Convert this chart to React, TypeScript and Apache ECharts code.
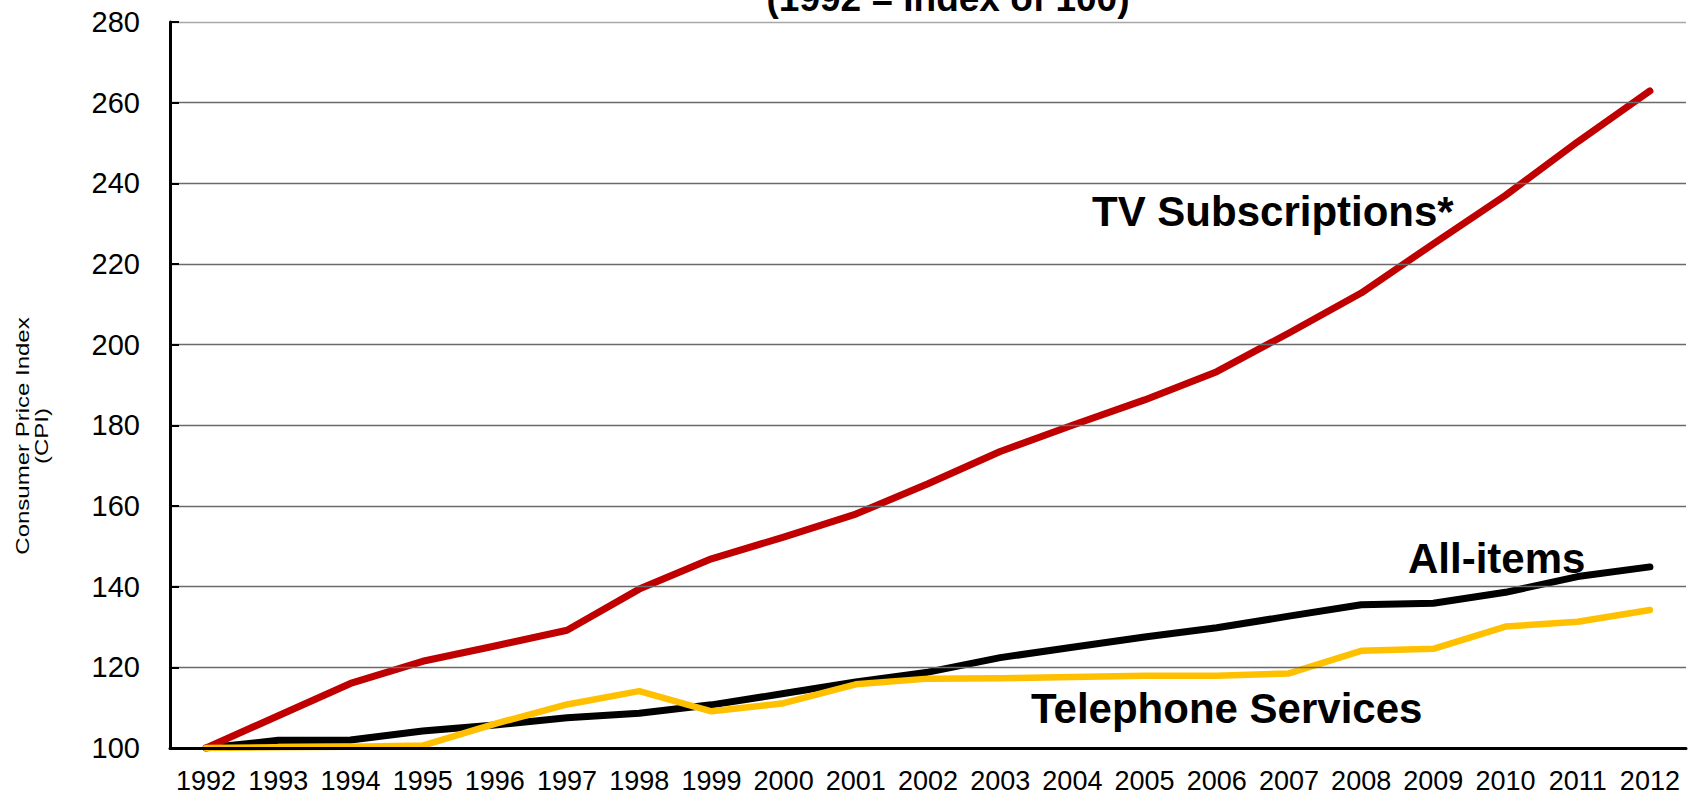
import React, { useEffect, useRef } from "react";
import * as echarts from "echarts";

const years = [
  "1992", "1993", "1994", "1995", "1996", "1997", "1998", "1999", "2000", "2001", "2002",
  "2003", "2004", "2005", "2006", "2007", "2008", "2009", "2010", "2011", "2012",
];
const tvSubscriptions = [
  100, 108, 116, 121.5, 125.3, 129.2, 139.4, 146.9, 152.3, 158, 165.5,
  173.5, 180, 186.3, 193.3, 202.9, 212.8, 225, 237, 250.3, 262.9,
];
const allItems = [
  100, 101.9, 102, 104.2, 105.7, 107.5, 108.6, 110.7, 113.5, 116.4, 118.8,
  122.4, 125, 127.5, 129.8, 132.7, 135.5, 135.9, 138.6, 142.5, 144.9,
];
const telephoneServices = [
  100, 100.2, 100.3, 100.6, 106, 110.8, 114.1, 109.1, 111.1, 115.8, 117.2,
  117.3, 117.6, 117.9, 117.9, 118.5, 124.1, 124.6, 130.1, 131.3, 134.2,
];
const yMin = 100;
const yMax = 280;
const yStep = 20;
const titleText = "(1992 = Index of 100)";
const yTitleLines = ["Consumer Price Index", "(CPI)"];
const seriesNames = ["TV Subscriptions*", "All-items", "Telephone Services"];

const FONT = "'Liberation Sans', Arial, Helvetica, sans-serif";

export default function App() {
  const ref = useRef<HTMLDivElement>(null);
  useEffect(() => {
    if (!ref.current) return;
    const chart = echarts.init(ref.current, null, { renderer: "svg" });
    const boldText = (text: string, x: number, y: number, size: number, align: string) => ({
      type: "text",
      x,
      y,
      style: {
        text,
        fill: "#000",
        fontSize: size,
        fontWeight: "bold",
        fontFamily: FONT,
        align,
        verticalAlign: "middle",
      },
      z: 100,
    });
    const yTitle = (text: string, x: number) => ({
      type: "text",
      x,
      y: 436,
      rotation: Math.PI / 2,
      scaleY: 0.78,
      style: {
        text,
        fill: "#000",
        fontSize: 24,
        fontFamily: FONT,
        align: "center",
        verticalAlign: "middle",
      },
    });
    chart.setOption({
      animation: false,
      backgroundColor: "#ffffff",
      textStyle: { fontFamily: FONT },
      grid: { left: 170, right: 11, top: 22, bottom: 50, containLabel: false },
      xAxis: {
        type: "category",
        data: years,
        boundaryGap: true,
        axisLine: { show: true, lineStyle: { color: "#000", width: 3 } },
        axisTick: { show: false },
        axisLabel: { color: "#000", fontSize: 27, margin: 19, interval: 0, fontFamily: FONT },
        splitLine: { show: false },
        z: 10,
      },
      yAxis: {
        type: "value",
        min: yMin,
        max: yMax,
        interval: yStep,
        axisLine: { show: true, lineStyle: { color: "#000", width: 3 } },
        axisTick: { show: true, inside: true, length: 9, lineStyle: { color: "#000", width: 2 } },
        axisLabel: { color: "#000", fontSize: 29, margin: 30, fontFamily: FONT },
        splitLine: {
          show: true,
          lineStyle: {
            color: ["#000", "#6a6a6a", "#6a6a6a", "#6a6a6a", "#6a6a6a", "#6a6a6a", "#6a6a6a", "#6a6a6a", "#6a6a6a", "#a8a8a8"],
            width: 1.3,
          },
        },
        z: 10,
      },
      series: [
        {
          name: seriesNames[1],
          type: "line",
          data: allItems,
          symbol: "none",
          lineStyle: { color: "#000000", width: 7, cap: "round", join: "round" },
          z: 2,
        },
        {
          name: seriesNames[0],
          type: "line",
          data: tvSubscriptions,
          symbol: "none",
          lineStyle: { color: "#c00000", width: 7, cap: "round", join: "round" },
          z: 3,
        },
        {
          name: seriesNames[2],
          type: "line",
          data: telephoneServices,
          symbol: "none",
          lineStyle: { color: "#ffc000", width: 6.5, cap: "round", join: "round" },
          z: 4,
        },
      ],
      graphic: [
        boldText(titleText, 948, -2, 37, "center"),
        boldText(seriesNames[0], 1092, 211, 42, "left"),
        boldText(seriesNames[1], 1408, 558, 42, "left"),
        boldText(seriesNames[2], 1031, 708, 42, "left"),
        yTitle(yTitleLines[0], 23),
        yTitle(yTitleLines[1], 42),
      ],
    });
    return () => chart.dispose();
  }, []);
  return (
    <div
      ref={ref}
      style={{ position: "absolute", left: 0, top: 0, width: 1697, height: 798, background: "#fff" }}
    />
  );
}
